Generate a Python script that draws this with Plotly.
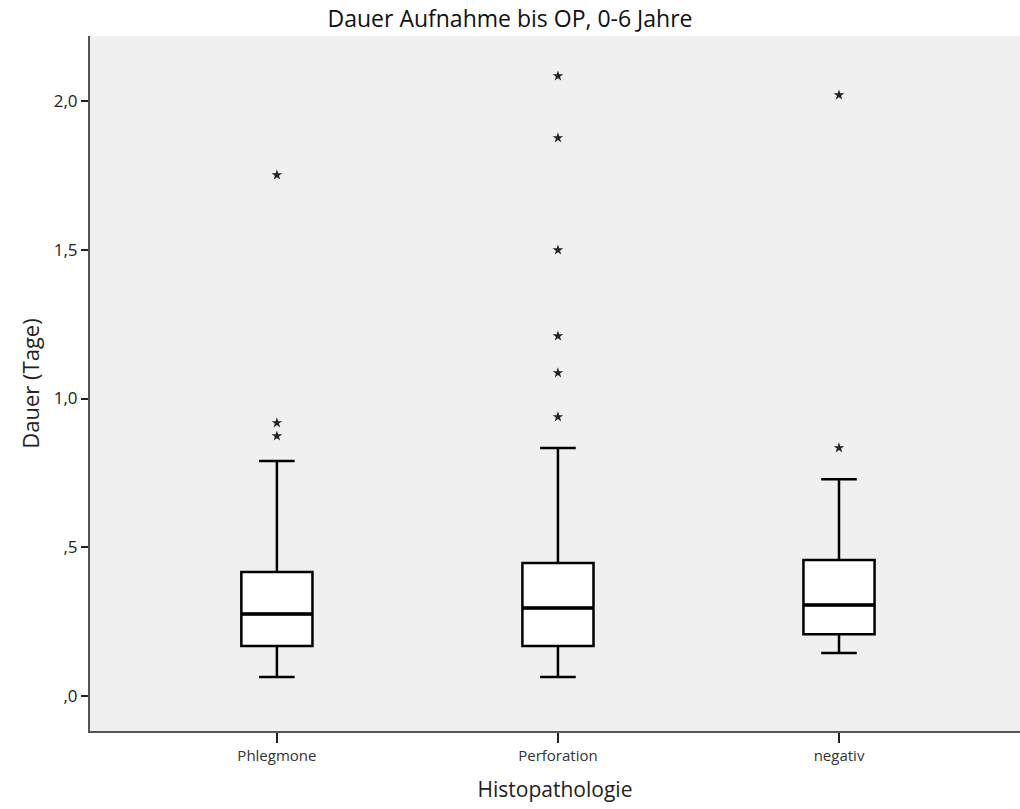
import plotly.graph_objects as go

# Kategorien und Kennwerte der Boxplots (Tage)
categories = ["Phlegmone", "Perforation", "negativ"]
lower_whisker = [0.064, 0.064, 0.145]
q1 = [0.168, 0.168, 0.208]
median = [0.276, 0.296, 0.306]
q3 = [0.417, 0.447, 0.457]
upper_whisker = [0.790, 0.834, 0.729]

# Extremwerte je Kategorie
outliers = [
    [0.874, 0.918, 1.751],
    [0.938, 1.086, 1.210, 1.499, 1.876, 2.084],
    [0.834, 2.020],
]

y_ticks = [0.0, 0.5, 1.0, 1.5, 2.0]
y_tick_labels = [",0", ",5", "1,0", "1,5", "2,0"]

FONT = "'Open Sans', Lato, sans-serif"
BOX_WIDTH = 0.253

fig = go.Figure()

for i, cat in enumerate(categories):
    fig.add_trace(go.Box(
        x=[i],
        q1=[q1[i]], median=[median[i]], q3=[q3[i]],
        lowerfence=[lower_whisker[i]], upperfence=[upper_whisker[i]],
        width=BOX_WIDTH, whiskerwidth=0.5,
        fillcolor="white",
        line=dict(color="black", width=2.5),
        boxpoints=False, showlegend=False, hoverinfo="skip",
    ))
    # kräftigere Medianlinie
    fig.add_trace(go.Scatter(
        x=[i - BOX_WIDTH / 2, i + BOX_WIDTH / 2],
        y=[median[i], median[i]],
        mode="lines", line=dict(color="black", width=3.5),
        showlegend=False, hoverinfo="skip",
    ))
    fig.add_trace(go.Scatter(
        x=[i] * len(outliers[i]), y=outliers[i],
        mode="markers",
        marker=dict(symbol="star", size=8, color="#222222"),
        showlegend=False, hoverinfo="skip",
    ))

fig.update_layout(
    width=1020, height=809,
    margin=dict(l=90, r=0, t=36, b=78),
    paper_bgcolor="white",
    plot_bgcolor="#f0f0f0",
    font=dict(family=FONT, color="#222222"),
    title=dict(
        text="Dauer Aufnahme bis OP, 0-6 Jahre",
        x=0.5, xanchor="center", y=0.977, yanchor="middle",
        font=dict(size=23, family=FONT, color="#111111"),
    ),
    xaxis=dict(
        range=[-0.665, 2.644],
        tickvals=list(range(len(categories))),
        ticktext=categories,
        ticks="outside", ticklen=10, tickwidth=2, tickcolor="#222222",
        tickfont=dict(size=15, family=FONT, color="#333333"),
        showline=True, linecolor="#555555", linewidth=2,
        showgrid=False, zeroline=False,
        title=dict(text="Histopathologie", font=dict(size=21, family=FONT, color="#222222"), standoff=18),
    ),
    yaxis=dict(
        range=[-0.1176, 2.2185],
        tickvals=y_ticks, ticktext=y_tick_labels,
        ticks="outside", ticklen=7, tickwidth=2, tickcolor="#222222",
        tickfont=dict(size=17, family=FONT, color="#222222"),
        showline=True, linecolor="#555555", linewidth=2,
        showgrid=False, zeroline=False,
        title=dict(text="Dauer (Tage)", font=dict(size=22, family=FONT, color="#222222"), standoff=8),
    ),
)

fig.write_html("out.html")
